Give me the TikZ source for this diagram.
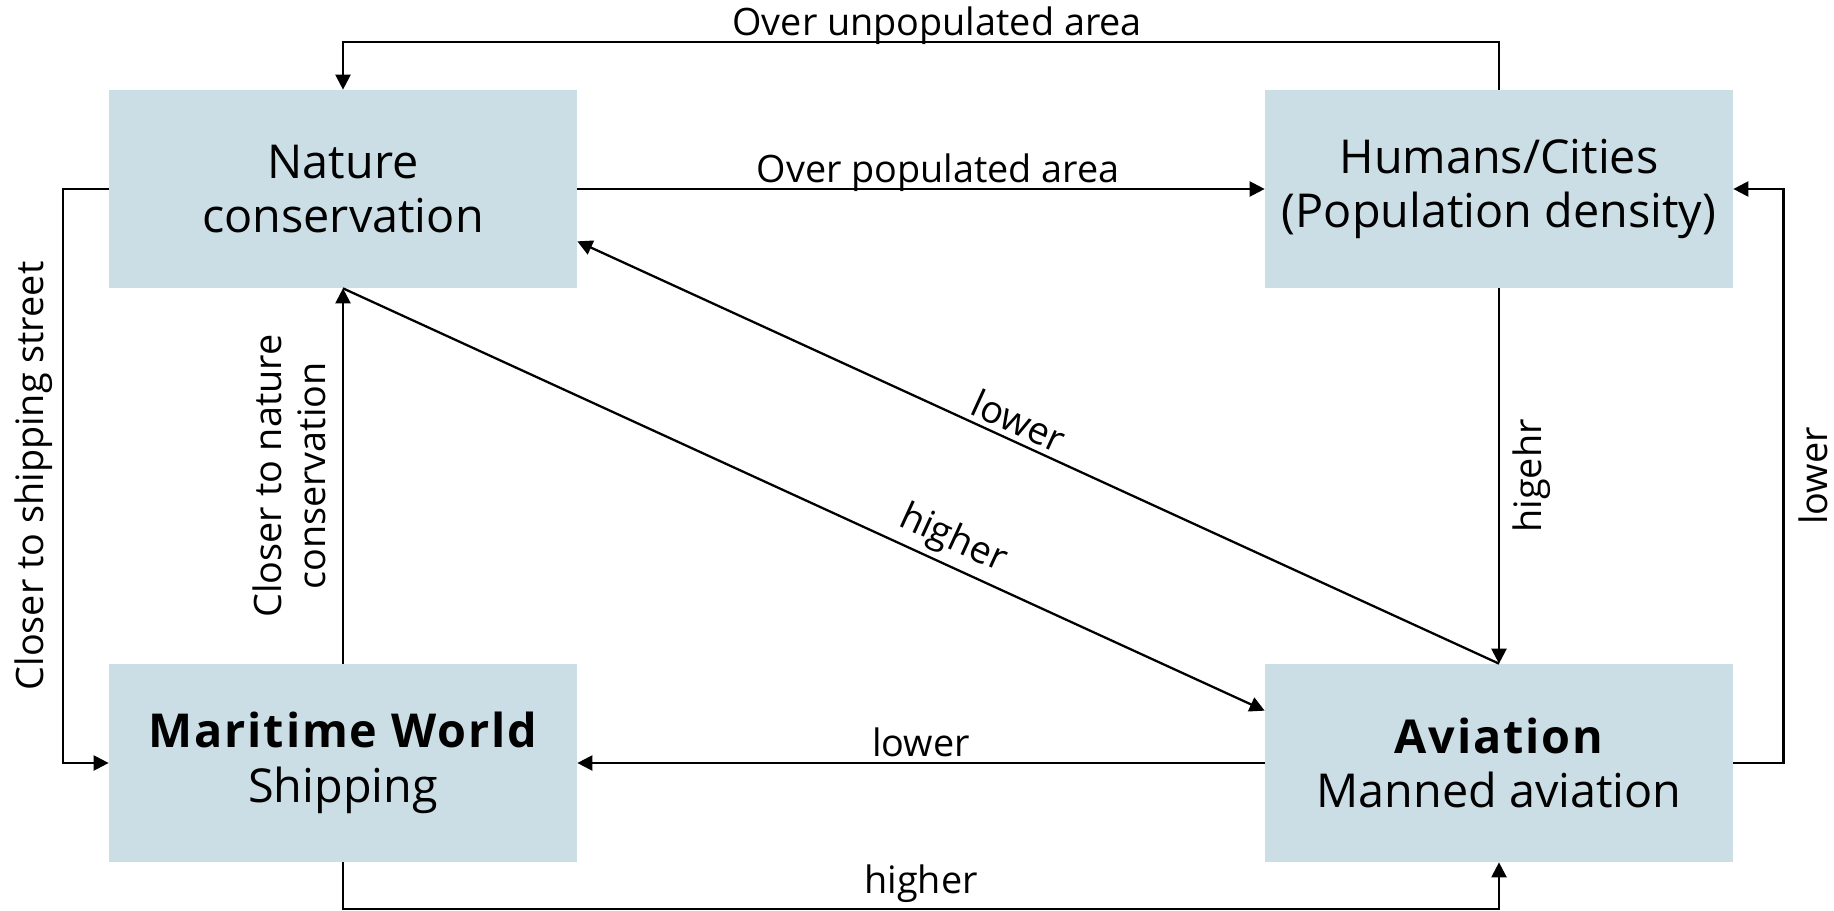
\documentclass[tikz,border=0pt]{standalone}
\usepackage{fontspec}
\setmainfont{Open Sans}
\usetikzlibrary{arrows.meta}
\definecolor{boxblue}{RGB}{203,222,229}
\newcommand{\boldspaced}[1]{{\bfseries\addfontfeature{LetterSpace=4}#1}}
\begin{document}
\begin{tikzpicture}[
  box/.style={fill=boxblue,minimum width=9.36cm,minimum height=3.96cm,align=center,
    font=\fontsize{26.6}{31}\selectfont},
  lbl/.style={font=\fontsize{21.5}{25}\selectfont,inner sep=3pt},
  flat/.style={lbl,text depth=0pt},
  arr/.style={line width=1.3pt,-{Triangle[length=8.5pt,width=8.5pt]}}]
\useasboundingbox (0,0) rectangle (36.68,-18.22);
\node[box] (nat) at (6.86,-3.78) {Nature\\conservation};
\node[box] (hum) at (29.98,-3.78) {Humans/Cities\\(Population density)};
\node[box] (mar) at (6.86,-15.26) {\boldspaced{Maritime World}\\Shipping};
\node[box] (avi) at (29.98,-15.26) {\boldspaced{Aviation}\\Manned aviation};
\draw[arr] (hum.north) -- ++(0,0.96) -| (nat.north)
  node[flat,pos=0.243,above] {Over unpopulated area};
\draw[arr] (nat.east) -- (hum.west) node[flat,pos=0.525,above] {Over populated area};
\draw[arr] (nat.west) -- ++(-0.92,0) |- (mar.west)
  node[lbl,pos=0.25,above,rotate=90,yshift=2pt] {Closer to shipping street};
\draw[arr] (mar.north) -- (nat.south)
  node[lbl,midway,above,rotate=90,align=center,yshift=6pt] {Closer to nature\\conservation};
\draw[arr] (nat.south) -- ([yshift=-0.94cm]avi.north west)
  node[lbl,pos=0.65,above,sloped] {higher};
\draw[arr] (avi.north) -- ([yshift=0.94cm]nat.south east)
  node[lbl,pos=0.53,above,sloped] {lower};
\draw[arr] (hum.south) -- (avi.north)
  node[lbl,midway,below,rotate=90,yshift=-4pt] {higehr};
\draw[arr] (avi.east) -- ++(1.0,0) |- (hum.east)
  node[lbl,pos=0.25,below,rotate=90,yshift=-5pt] {lower};
\draw[arr] (avi.west) -- (mar.east) node[lbl,midway,above] {lower};
\draw[arr] (mar.south) -- ++(0,-0.94) -| (avi.south)
  node[lbl,pos=0.25,above] {higher};
\end{tikzpicture}
\end{document}
